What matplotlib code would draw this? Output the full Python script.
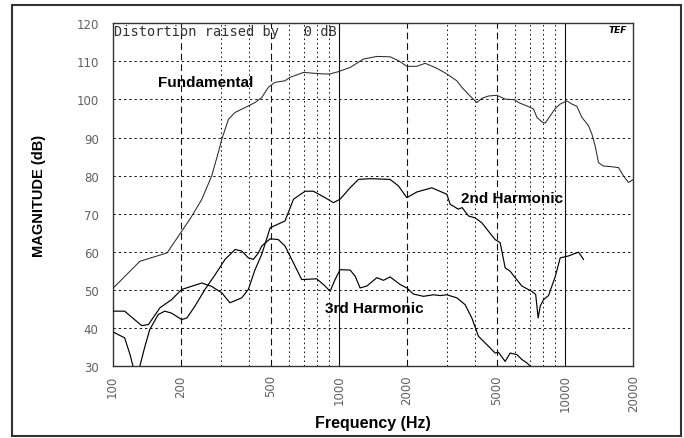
import matplotlib
matplotlib.use("Agg")
import matplotlib.pyplot as plt
from matplotlib.patches import Rectangle

# ---------------- data ----------------
fund_f = [100, 132, 174, 200, 222, 248, 274, 293, 304, 325, 348, 398, 426, 456, 488,
          522, 578, 608, 697, 771, 854, 914, 995, 1121, 1283, 1471, 1684, 1833, 1996, 2210,
          2405, 2708, 3000, 3320, 3493, 3800, 4070, 4285, 4580, 4990, 5430, 6010, 6216, 6775, 7245,
          7500, 7890, 8160, 8585, 9030, 9507, 10175, 10706, 11265, 11853, 12678, 13125, 13570, 14040, 14760,
          15740, 17210, 18110, 19050, 20000]
fund_db = [50.3, 57.5, 59.7, 65, 69, 73.8, 79.9, 86, 89.6, 94.8, 96.6, 98.3, 99.2, 100.5, 103.2,
           104.5, 104.9, 105.8, 107.1, 106.9, 106.7, 106.7, 107.3, 108.4, 110.6, 111.3, 111.2, 110.2, 108.7, 108.7,
           109.5, 108.2, 106.7, 104.9, 103.2, 100.9, 99.2, 100.3, 100.9, 101.1, 100.1, 99.9, 99.2, 98.3, 97.5,
           95.3, 94.1, 93.8, 95.7, 97.6, 98.8, 99.6, 98.8, 98.2, 95.3, 93.1, 90.9, 87.8, 83.4, 82.5,
           82.4, 82.1, 79.9, 78.2, 79]

h2_f = [100, 113, 134.5, 144, 162, 182, 202, 248, 274, 304, 330, 372, 398, 426, 456,
        497, 578, 630, 709, 771, 869, 946, 1012, 1121, 1220, 1374, 1684, 1833, 1996, 2210,
        2575, 3000, 3101, 3365, 3505, 3737, 4000, 4285, 4580, 4903, 5160, 5430, 5710, 6010, 6437,
        7125, 7407, 7597, 7755, 8017, 8440, 9030, 9507, 10342, 11455, 12050]
h2_db = [44.4, 44.4, 40.6, 40.9, 45.3, 47.4, 50.1, 51.8, 50.9, 49.2, 46.6, 47.9, 50.1, 55.3, 59.3,
         66.3, 68.1, 73.8, 75.9, 75.9, 74.2, 72.9, 73.8, 76.8, 79, 79.2, 79, 77.3, 74.2, 75.7,
         76.8, 75.1, 72.5, 71.2, 71.6, 69.4, 68.9, 67.6, 65.4, 63.2, 62.4, 55.8, 54.9, 53.2, 51,
         49.6, 48.8, 42.6, 45.7, 47.4, 48.5, 53.4, 58.4, 58.9, 59.9, 58]

h3_f = [100, 113, 119.4, 123.5, 127, 132, 139, 146, 159, 170, 182, 202, 213, 231, 256,
        284, 314, 348, 372, 398, 419, 441, 456, 497, 540, 578, 608, 685, 798, 869,
        914, 962, 1012, 1121, 1180, 1241, 1329, 1471, 1574, 1684, 1865, 1996, 2134, 2364, 2617,
        2800, 3000, 3320, 3613, 3869, 4138, 4580, 4903, 5071, 5430, 5710, 6116, 6437, 6775, 7000]
h3_db = [39, 37.4, 33, 29.6, 26, 30, 35.2, 39.6, 43.5, 44.4, 43.9, 42.2, 42.6, 45.7, 50.1,
         54, 58, 60.6, 60.2, 58.4, 58, 59.7, 61.5, 63.4, 63.2, 61.5, 58.9, 52.7, 52.9, 51,
         49.6, 52.7, 55.3, 55.2, 53.6, 50.5, 51, 53.2, 52.5, 53.4, 51.4, 50.5, 48.9, 48.3, 48.7,
         48.5, 48.7, 47.9, 46.1, 42.6, 37.8, 35.2, 33.4, 33.6, 31.2, 33.4, 33, 31.7, 30.8, 30]

x_ticks = [100, 200, 500, 1000, 2000, 5000, 10000, 20000]
x_tick_labels = ["100", "200", "500", "1000", "2000", "5000", "10000", "20000"]
y_ticks = [30, 40, 50, 60, 70, 80, 90, 100, 110, 120]
dashed_v = [200, 500, 2000, 5000]
solid_v = [1000, 10000]
dotted_v = [300, 400, 600, 700, 800, 900, 3000, 4000, 6000, 7000, 8000, 9000]
grid_h = [40, 50, 60, 70, 80, 90, 100, 110]

# ---------------- figure ----------------
W, H = 684, 439
fig = plt.figure(figsize=(W / 100, H / 100), dpi=100)
L, R, T, B = 112.6, 633.3, 24.3, 367.0
ax = fig.add_axes([L / W, 1 - B / H, (R - L) / W, (B - T) / H])

ax.set_xscale("log")
ax.set_xlim(100, 20000)
ax.set_ylim(30, 120)

for y in grid_h:
    ax.axhline(y, color="#111111", lw=0.7, ls=(0, (2.4, 3.0)), zorder=1)
for x in dotted_v:
    ax.axvline(x, color="#111111", lw=0.7, ls=(0, (1.6, 3.0)), zorder=1)
for x in dashed_v:
    ax.axvline(x, color="#111111", lw=0.8, ls=(0, (6, 3.5)), zorder=1)
for x in solid_v:
    ax.axvline(x, color="#111111", lw=0.8, zorder=1)

ax.plot(fund_f, fund_db, color="#2a2a2a", lw=0.75, zorder=3)
ax.plot(h2_f, h2_db, color="black", lw=0.85, zorder=3)
ax.plot(h3_f, h3_db, color="black", lw=0.85, zorder=3)

ax.set_xticks(x_ticks)
ax.set_xticklabels(x_tick_labels, rotation=90, fontsize=8.5, color="#606060")
ax.minorticks_off()
ax.set_yticks(y_ticks)
ax.set_yticklabels([str(v) for v in y_ticks], fontsize=8.5, color="#606060")
ax.tick_params(axis="both", length=0)
ax.tick_params(axis="y", pad=10)
ax.tick_params(axis="x", pad=6)

for s in ax.spines.values():
    s.set_color("#333333")
    s.set_linewidth(1.0)

ax.set_xlabel("Frequency (Hz)", fontsize=11.5, fontweight="bold",
              family="Liberation Sans", labelpad=3)
ax.set_ylabel("MAGNITUDE (dB)", fontsize=10.5, fontweight="bold",
              family="Liberation Sans", labelpad=22)

ax.text(0.003, 0.998, "Distortion raised by   0 dB", transform=ax.transAxes,
        fontsize=9.8, family="DejaVu Sans Mono", color="#333333", ha="left", va="top")
ax.text(0.97, 0.994, "TEF", transform=ax.transAxes, fontsize=6.5,
        fontweight="bold", style="italic", ha="center", va="top")

lab = dict(transform=ax.transAxes, fontsize=11, fontweight="bold",
           family="Liberation Sans", ha="center", va="center", zorder=4)
ax.text(0.1784, 0.8296, "Fundamental", **lab)
ax.text(0.768, 0.490, "2nd Harmonic", **lab)
ax.text(0.502, 0.169, "3rd Harmonic", **lab)

fig.add_artist(Rectangle((11.7 / W, 1 - 436.7 / H), (681 - 11.7) / W, (436.7 - 6) / H,
                         transform=fig.transFigure, fill=False, lw=1.5, ec="#333333"))

fig.savefig("out.png", dpi=100)
